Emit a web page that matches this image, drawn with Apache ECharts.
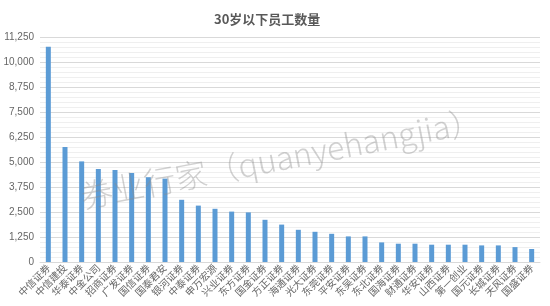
<!DOCTYPE html>
<html><head><meta charset="utf-8">
<script src="https://cdn.jsdelivr.net/npm/echarts@6/dist/echarts.min.js"></script>
<style>html,body{margin:0;padding:0;background:#fff}#c{width:550px;height:306px}</style>
</head><body><div id="c"></div>
<script>
const titleText = '30岁以下员工数量';
const categories = ['中信证券','中信建投','华泰证券','中金公司','招商证券','广发证券','国信证券','国泰君安','银河证券','中泰证券','申万宏源','兴业证券','东方证券','国金证券','方正证券','海通证券','光大证券','东莞证券','平安证券','东吴证券','东北证券','国海证券','财通证券','华安证券','山西证券','第一创业','国元证券','长城证券','天风证券','国盛证券'];
const values = [10760,5750,5030,4650,4600,4450,4240,4170,3110,2820,2660,2520,2480,2110,1870,1610,1510,1410,1280,1280,980,915,915,865,865,865,830,830,745,650];
const yTicks = [0,1250,2500,3750,5000,6250,7500,8750,10000,11250];
const watermark = '券业行家（quanyehangjia）';

const chart = echarts.init(document.getElementById('c'));
chart.setOption({
  animation:false,
  title:{text:titleText,left:209,top:8,textStyle:{fontSize:13,fontWeight:'bold',color:'#595959',fontFamily:'"Noto Sans CJK SC", sans-serif'}},
  grid:{left:40,right:10,top:37,bottom:44},
  xAxis:{type:'category',data:categories,
    axisLine:{lineStyle:{color:'#d9d9d9'}},axisTick:{show:false},
    axisLabel:{rotate:45,fontSize:10,color:'#666',interval:0,margin:4,fontFamily:'"Noto Sans CJK SC", sans-serif'}},
  yAxis:{type:'value',min:yTicks[0],max:yTicks[yTicks.length-1],interval:1250,
    axisLine:{show:false},axisTick:{show:false},
    axisLabel:{fontSize:10,color:'#666',margin:6,formatter:v=>v.toLocaleString('en-US')},
    splitLine:{lineStyle:{color:'#d9d9d9'}},
    minorTick:{show:false,splitNumber:5},
    minorSplitLine:{show:true,lineStyle:{color:'#efefef'}}},
  series:[{type:'bar',data:values,barWidth:5,itemStyle:{color:'#5b9bd5'}}],
  graphic:[{type:'text',x:281,y:158,rotation:0.19,z:100,
    style:{text:watermark,fill:'rgba(140,140,140,0.4)',fontSize:32,fontFamily:'"Noto Sans CJK SC", sans-serif',fontWeight:300,align:'center',verticalAlign:'middle'}}]
});
</script></body></html>
